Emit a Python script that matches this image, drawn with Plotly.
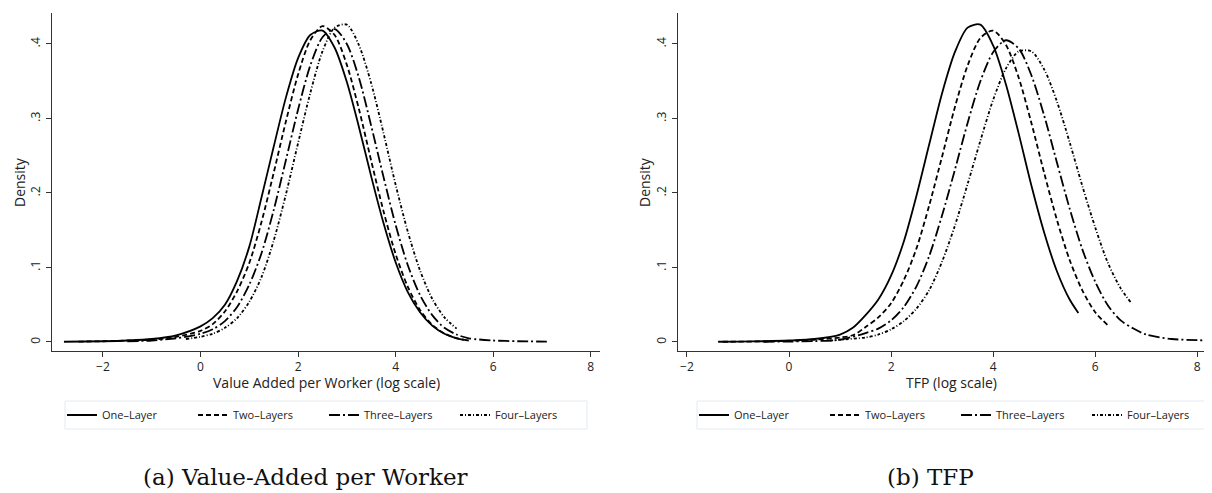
import plotly.graph_objects as go

# ---------------- Panel (a): Value Added per Worker ----------------
va_one_x = [-2.8, -2.0, -1.5, -1.0, -0.5, 0.0, 0.25, 0.5, 0.75, 1.0, 1.25, 1.5, 1.75, 2.0, 2.25, 2.5, 2.75, 3.0, 3.25, 3.5, 3.75, 4.0, 4.25, 4.5, 4.75, 5.0, 5.25, 5.5]
va_one_y = [0.0003, 0.001, 0.002, 0.004, 0.009, 0.021, 0.032, 0.050, 0.082, 0.128, 0.194, 0.262, 0.328, 0.381, 0.412, 0.418, 0.395, 0.349, 0.288, 0.222, 0.160, 0.107, 0.067, 0.040, 0.022, 0.011, 0.005, 0.002]

va_two_x = [-2.5, -2.0, -1.5, -1.0, -0.5, 0.0, 0.25, 0.5, 0.75, 1.0, 1.25, 1.5, 1.75, 2.0, 2.25, 2.5, 2.75, 3.0, 3.25, 3.5, 3.75, 4.0, 4.25, 4.5, 4.75, 5.0, 5.25, 5.4]
va_two_y = [0.0005, 0.001, 0.002, 0.003, 0.007, 0.015, 0.024, 0.041, 0.068, 0.106, 0.161, 0.227, 0.296, 0.359, 0.405, 0.424, 0.412, 0.372, 0.312, 0.243, 0.176, 0.118, 0.074, 0.043, 0.023, 0.0115, 0.0053, 0.003]

va_three_x = [-1.5, -1.0, -0.5, 0.0, 0.25, 0.5, 0.75, 1.0, 1.25, 1.5, 1.75, 2.0, 2.25, 2.5, 2.75, 3.0, 3.25, 3.5, 3.75, 4.0, 4.25, 4.5, 4.75, 5.0, 5.25, 5.5, 6.0, 6.5, 7.1]
va_three_y = [0.001, 0.002, 0.005, 0.011, 0.017, 0.028, 0.047, 0.077, 0.119, 0.177, 0.244, 0.312, 0.371, 0.409, 0.420, 0.400, 0.354, 0.290, 0.222, 0.157, 0.103, 0.063, 0.036, 0.019, 0.010, 0.005, 0.002, 0.001, 0.0005]

va_four_x = [-0.3, 0.0, 0.25, 0.5, 0.75, 1.0, 1.25, 1.5, 1.75, 2.0, 2.25, 2.5, 2.75, 3.0, 3.25, 3.5, 3.75, 4.0, 4.25, 4.5, 4.75, 5.0, 5.25]
va_four_y = [0.004, 0.007, 0.011, 0.019, 0.032, 0.054, 0.087, 0.136, 0.198, 0.267, 0.334, 0.390, 0.422, 0.426, 0.398, 0.347, 0.281, 0.211, 0.148, 0.096, 0.058, 0.033, 0.018]

# ---------------- Panel (b): TFP ----------------
tfp_one_x = [-1.39, -1.0, -0.5, 0.0, 0.5, 1.0, 1.25, 1.5, 1.75, 2.0, 2.25, 2.5, 2.75, 3.0, 3.25, 3.5, 3.75, 4.0, 4.25, 4.5, 4.75, 5.0, 5.25, 5.5, 5.67]
tfp_one_y = [0.0003, 0.0005, 0.001, 0.002, 0.004, 0.010, 0.019, 0.036, 0.057, 0.089, 0.135, 0.197, 0.266, 0.334, 0.389, 0.422, 0.426, 0.398, 0.346, 0.280, 0.210, 0.147, 0.095, 0.057, 0.039]

tfp_two_x = [-1.3, -1.0, -0.5, 0.0, 0.5, 1.0, 1.25, 1.5, 1.75, 2.0, 2.25, 2.5, 2.75, 3.0, 3.25, 3.5, 3.75, 4.0, 4.25, 4.5, 4.75, 5.0, 5.25, 5.5, 5.75, 6.0, 6.27]
tfp_two_y = [0.0003, 0.0004, 0.0008, 0.0015, 0.003, 0.006, 0.009, 0.020, 0.033, 0.052, 0.083, 0.126, 0.184, 0.249, 0.315, 0.371, 0.408, 0.418, 0.399, 0.355, 0.294, 0.227, 0.164, 0.110, 0.069, 0.040, 0.021]

tfp_three_x = [-0.5, 0.0, 0.5, 1.0, 1.5, 1.75, 2.0, 2.25, 2.5, 2.75, 3.0, 3.25, 3.5, 3.75, 4.0, 4.25, 4.5, 4.75, 5.0, 5.25, 5.5, 5.75, 6.0, 6.25, 6.5, 6.75, 7.0, 7.5, 8.0, 8.2]
tfp_three_y = [0.0003, 0.0006, 0.0012, 0.003, 0.012, 0.018, 0.029, 0.047, 0.075, 0.116, 0.170, 0.231, 0.294, 0.350, 0.389, 0.405, 0.394, 0.358, 0.304, 0.241, 0.179, 0.124, 0.081, 0.049, 0.029, 0.018, 0.010, 0.004, 0.0025, 0.002]

tfp_four_x = [0.8, 1.0, 1.5, 1.75, 2.0, 2.25, 2.5, 2.75, 3.0, 3.25, 3.5, 3.75, 4.0, 4.25, 4.5, 4.75, 5.0, 5.25, 5.5, 5.75, 6.0, 6.25, 6.5, 6.7]
tfp_four_y = [0.002, 0.003, 0.006, 0.010, 0.017, 0.028, 0.045, 0.070, 0.108, 0.156, 0.212, 0.270, 0.325, 0.367, 0.390, 0.390, 0.366, 0.323, 0.268, 0.209, 0.154, 0.106, 0.072, 0.053]

series_names = ["One\u2013Layer", "Two\u2013Layers", "Three\u2013Layers", "Four\u2013Layers"]
dashes = ["solid", "5px,3px", "11px,3px,2px,3px", "3px,2px,1px,2px"]

y_ticks = [0, 0.1, 0.2, 0.3, 0.4]
y_tick_text = ["0", ".1", ".2", ".3", ".4"]
x_ticks = [-2, 0, 2, 4, 6, 8]

# the page body has an 8px margin, so the figure is offset by 8px in the window
OFF = 8
W, H = 1212 - OFF, 493 - OFF
def px_x(p):
    return (p - OFF) / W
def px_y(p):
    return 1 - (p - OFF) / H

fig = go.Figure()

va_data = [(va_one_x, va_one_y), (va_two_x, va_two_y), (va_three_x, va_three_y), (va_four_x, va_four_y)]
tfp_data = [(tfp_one_x, tfp_one_y), (tfp_two_x, tfp_two_y), (tfp_three_x, tfp_three_y), (tfp_four_x, tfp_four_y)]

for i, (xs, ys) in enumerate(va_data):
    fig.add_trace(go.Scatter(x=xs, y=ys, mode="lines", name=series_names[i],
                             line=dict(color="black", width=1.8, dash=dashes[i], shape="spline", smoothing=0.8),
                             xaxis="x", yaxis="y", legend="legend"))
for i, (xs, ys) in enumerate(tfp_data):
    fig.add_trace(go.Scatter(x=xs, y=ys, mode="lines", name=series_names[i],
                             line=dict(color="black", width=1.8, dash=dashes[i], shape="spline", smoothing=0.8),
                             xaxis="x2", yaxis="y2", legend="legend2"))

sans = "Open Sans, Noto Sans, sans-serif"
tickfont = dict(family=sans, size=12, color="#222")
titlefont = dict(family=sans, size=14, color="#222")
legfont = dict(family=sans, size=11, color="#222")

ydom = [px_y(351), px_y(13)]
common_x = dict(showline=True, linecolor="#333", linewidth=1, ticks="outside", ticklen=5, tickwidth=1,
                tickcolor="#333", tickvals=x_ticks, showgrid=False, zeroline=False, tickfont=tickfont,
                ticklabelstandoff=0)
common_y = dict(showline=True, linecolor="#333", linewidth=1, ticks="outside", ticklen=5, tickwidth=1,
                tickcolor="#333", tickvals=y_ticks, ticktext=y_tick_text, showgrid=False, zeroline=False,
                tickfont=tickfont, tickangle=-90, range=[-0.0121, 0.4416], domain=ydom,
                ticklabelstandoff=1)

fig.update_layout(
    width=W, height=H, margin=dict(l=0, r=0, t=0, b=0, autoexpand=False),
    paper_bgcolor="white", plot_bgcolor="white",
    xaxis=dict(**common_x, anchor="y", domain=[px_x(52), px_x(600)], range=[-3.045, 8.19]),
    yaxis=dict(**common_y, anchor="x"),
    xaxis2=dict(**common_x, anchor="y2", domain=[px_x(678), px_x(1211)], range=[-2.176, 8.27]),
    yaxis2=dict(**common_y, anchor="x2"),
    legend=dict(orientation="h", x=px_x(62), y=px_y(415), xanchor="left", yanchor="middle",
                bgcolor="rgba(0,0,0,0)", borderwidth=0, entrywidth=86, itemwidth=30, font=legfont),
    legend2=dict(orientation="h", x=px_x(694), y=px_y(415), xanchor="left", yanchor="middle",
                 bgcolor="rgba(0,0,0,0)", borderwidth=0, entrywidth=86, itemwidth=30, font=legfont),
    showlegend=True,
)

# axis titles
def ann(text, x, y, font, angle=0):
    fig.add_annotation(text=text, xref="paper", yref="paper", x=px_x(x), y=px_y(y),
                       xanchor="center", yanchor="middle", showarrow=False, font=font, textangle=angle)

ann("Value Added per Worker (log scale)", 326, 382, titlefont)
ann("TFP (log scale)", 951, 382, titlefont)
ann("Density", 19, 182, titlefont, -90)
ann("Density", 644, 182, titlefont, -90)

# legend boxes
for (x0, x1) in [(65, 587), (697, 1211)]:
    fig.add_shape(type="rect", xref="paper", yref="paper", x0=px_x(x0), x1=px_x(x1), y0=px_y(429), y1=px_y(401),
                  line=dict(color="#e2ebef", width=1), fillcolor="rgba(0,0,0,0)", layer="below")

captionfont = dict(family="DejaVu Serif, Liberation Serif, serif", size=23, color="#111")
ann("(a) Value-Added per Worker", 305, 477, captionfont)
ann("(b) TFP", 930, 477, captionfont)

fig.write_html("out.html")
